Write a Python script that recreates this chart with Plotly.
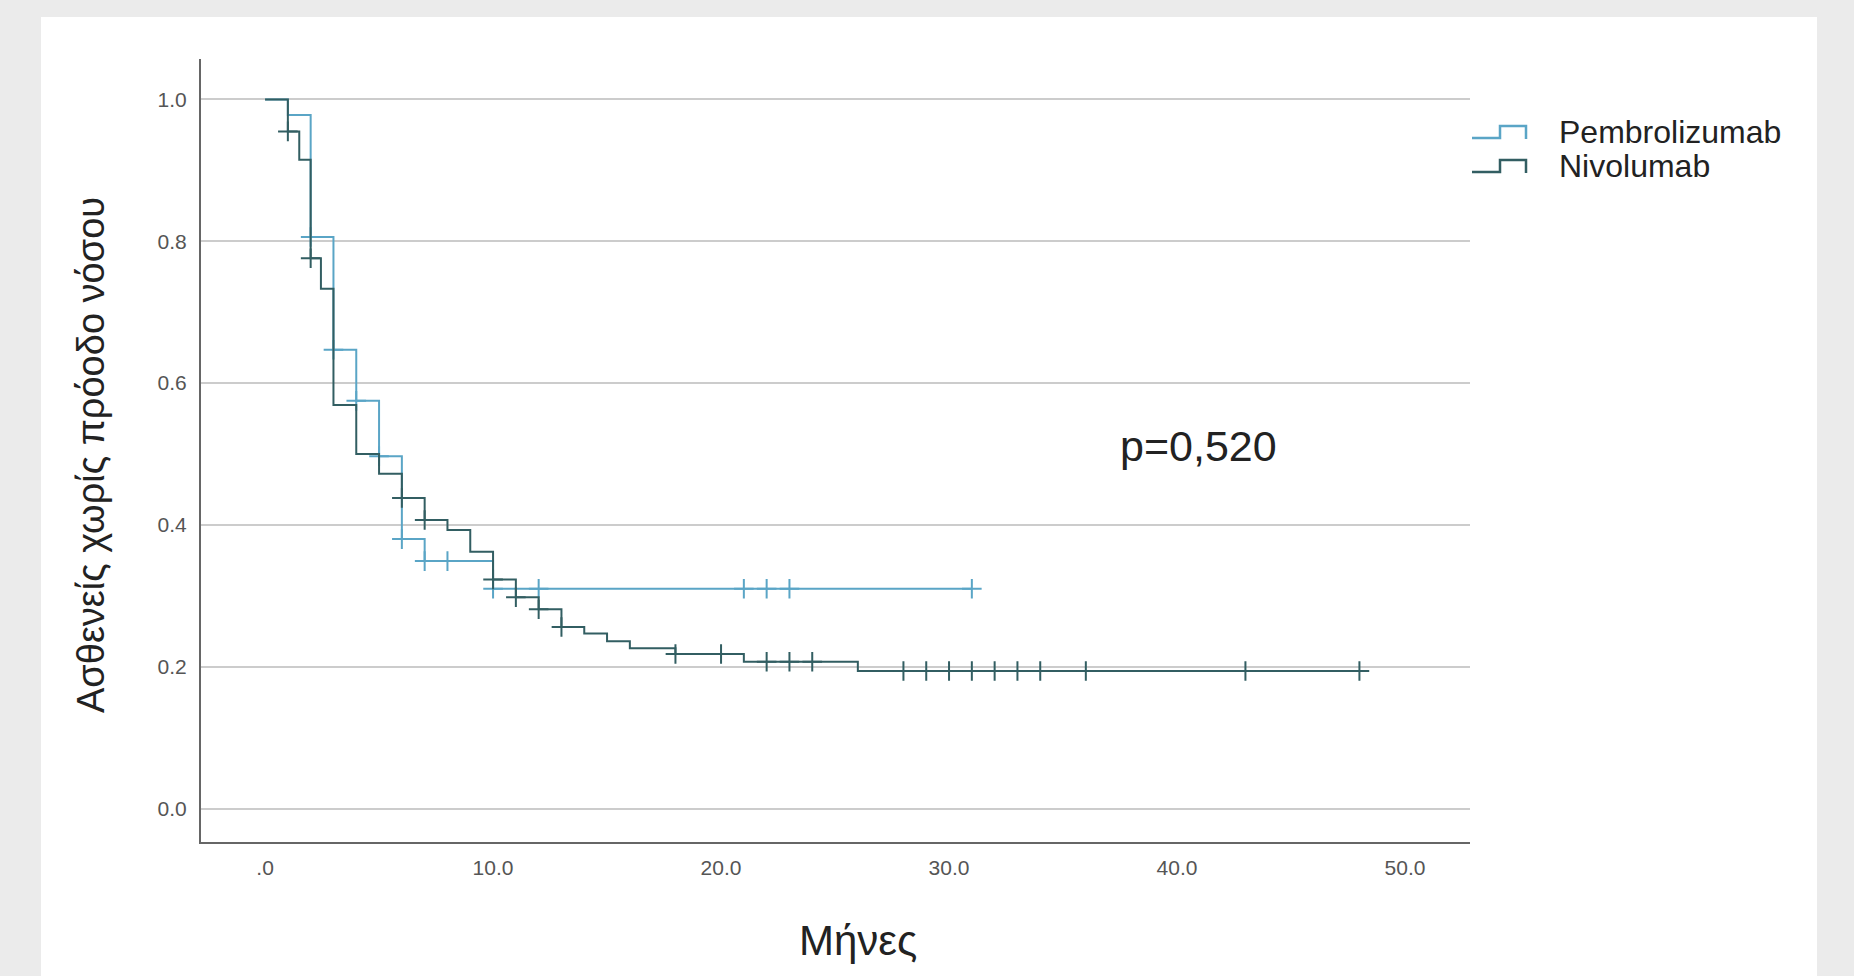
import plotly.graph_objects as go

# ---------------- data ----------------
pembro_name = "Pembrolizumab"
pembro_times = [0, 1, 2, 3, 4, 5, 6, 7, 10, 31]
pembro_surv = [1.0, 0.978, 0.806, 0.647, 0.575, 0.497, 0.380, 0.349, 0.310, 0.310]
pembro_censor_times = [2, 3, 4, 5, 6, 7, 8, 10, 12, 21, 22, 23, 31]

nivo_name = "Nivolumab"
nivo_times = [0, 1, 1.5, 2, 2.45, 3, 4, 5, 6, 7, 8, 9, 10, 11, 12, 13, 14, 15, 16, 18, 21, 26, 48]
nivo_surv = [1.0, 0.955, 0.915, 0.776, 0.733, 0.569, 0.500, 0.472, 0.438, 0.407, 0.393, 0.362,
             0.323, 0.298, 0.281, 0.256, 0.247, 0.236, 0.226, 0.218, 0.207, 0.194, 0.194]
nivo_censor_times = [1, 2, 6, 7, 10, 11, 12, 13, 18, 20, 22, 23, 24,
                     28, 29, 30, 31, 32, 33, 34, 36, 43, 48]

x_tick_vals = [0, 10, 20, 30, 40, 50]
x_tick_text = [".0", "10.0", "20.0", "30.0", "40.0", "50.0"]
y_tick_vals = [0.0, 0.2, 0.4, 0.6, 0.8, 1.0]
y_tick_text = ["0.0", "0.2", "0.4", "0.6", "0.8", "1.0"]

x_title = "Μήνες"
y_title = "Ασθενείς χωρίς πρόοδο νόσου"
p_text = "p=0,520"
p_pos = (37.4, 0.512)

# ---------------- styling ----------------
PEMBRO_COLOR = "#5aa5c6"
NIVO_COLOR = "#325e62"
FONT = "Liberation Sans, Arial, sans-serif"
W, H = 1854, 976
L, R, T, B = 201, 384, 59, 134


def step_value(times, surv, t):
    """KM step function lookup (value after step at time t)."""
    val = surv[0]
    for ti, si in zip(times, surv):
        if ti <= t:
            val = si
    return val


def px(X):
    return (X - L) / (W - L - R)


def py(Y):
    return (H - B - Y) / (H - T - B)


fig = go.Figure()

series = [
    (pembro_name, pembro_times, pembro_surv, pembro_censor_times, PEMBRO_COLOR),
    (nivo_name, nivo_times, nivo_surv, nivo_censor_times, NIVO_COLOR),
]

for name, times, surv, censor, color in series:
    fig.add_trace(go.Scatter(
        x=times, y=surv, mode="lines", name=name,
        line=dict(color=color, width=2, shape="hv"),
        legendgroup=name, showlegend=False,
    ))
    fig.add_trace(go.Scatter(
        x=censor, y=[step_value(times, surv, t) for t in censor],
        mode="markers", name=name + " censored", showlegend=False,
        legendgroup=name,
        marker=dict(symbol="cross-thin", size=14, color=color,
                    line=dict(color=color, width=2)),
    ))

# white panel behind the chart
fig.add_shape(type="rect", xref="paper", yref="paper",
              x0=px(41), x1=px(1817), y0=py(976), y1=py(17),
              fillcolor="white", line=dict(width=0), layer="below")

# legend drawn with SPSS-like step icons
legend_rows = [(pembro_name, PEMBRO_COLOR, 132), (nivo_name, NIVO_COLOR, 166)]
for name, color, yc in legend_rows:
    path = (f"M{px(1472)},{py(yc + 6)} L{px(1500)},{py(yc + 6)} "
            f"L{px(1500)},{py(yc - 6)} L{px(1526)},{py(yc - 6)} L{px(1526)},{py(yc + 7)}")
    fig.add_shape(type="path", xref="paper", yref="paper", path=path,
                  line=dict(color=color, width=2.5))
    fig.add_annotation(xref="paper", yref="paper", x=px(1557), y=py(yc),
                       text=name, showarrow=False, xanchor="left", yanchor="middle",
                       font=dict(family=FONT, size=32, color="#222222"))

fig.add_annotation(x=p_pos[0], y=p_pos[1], text=p_text, showarrow=False,
                   xanchor="left", yanchor="middle",
                   font=dict(family=FONT, size=43, color="#222222"))

# axis titles
fig.add_annotation(xref="paper", yref="paper", x=px(858), y=py(940),
                   text=x_title, showarrow=False, xanchor="center", yanchor="middle",
                   font=dict(family=FONT, size=42, color="#222222"))
fig.add_annotation(xref="paper", yref="paper", x=px(91), y=py(455),
                   text=y_title, showarrow=False, textangle=-90,
                   xanchor="center", yanchor="middle",
                   font=dict(family=FONT, size=38, color="#222222"))

fig.update_layout(
    width=W, height=H,
    margin=dict(l=L, r=R, t=T, b=B),
    paper_bgcolor="#ebebeb",
    plot_bgcolor="white",
    font=dict(family=FONT, color="#222222"),
    showlegend=False,
    xaxis=dict(
        range=[-2.81, 52.85], tickvals=x_tick_vals, ticktext=x_tick_text,
        showgrid=False, zeroline=False, showline=True,
        linecolor="#666666", linewidth=2, ticks="",
        tickfont=dict(family=FONT, size=21, color="#555555"),
        ticklabelstandoff=6,
    ),
    yaxis=dict(
        range=[-0.0472, 1.0571], tickvals=y_tick_vals, ticktext=y_tick_text,
        showgrid=True, gridcolor="#cccccc", gridwidth=1.5,
        zeroline=False, showline=True,
        linecolor="#666666", linewidth=2, ticks="",
        tickfont=dict(family=FONT, size=21, color="#555555"),
        ticklabelstandoff=8,
    ),
)

fig.write_html(
    "out.html",
    config={"displayModeBar": False},
    post_script="document.body.style.margin='0';document.body.style.padding='0';"
                "document.body.style.background='#ebebeb';",
)
